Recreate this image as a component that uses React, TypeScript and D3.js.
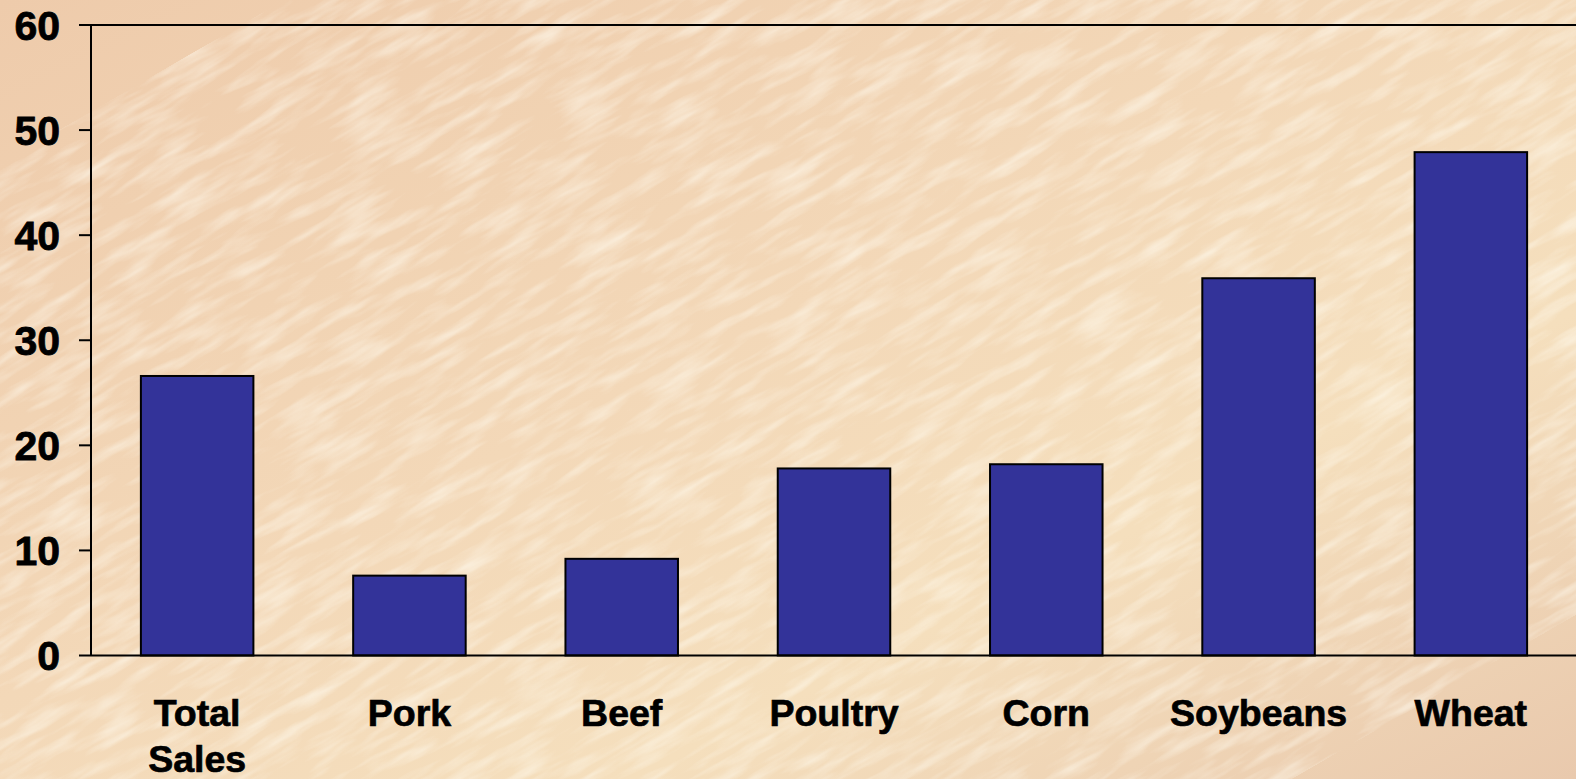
import React from "react";
import * as d3 from "d3";

const categories: string[][] = [["Total", "Sales"], ["Pork"], ["Beef"], ["Poultry"], ["Corn"], ["Soybeans"], ["Wheat"]];
const values: number[] = [26.6, 7.6, 9.2, 17.8, 18.2, 35.9, 47.9];
const yTicks: number[] = [0, 10, 20, 30, 40, 50, 60];

const W = 1576;
const H = 779;
const left = 91;
const right = 1577;
const top = 25;
const bottom = 655.5;

export default function App() {
  const keys = categories.map((c) => c.join(" "));
  const x = d3.scaleBand<string>().domain(keys).range([left, right]).paddingInner(0.47).paddingOuter(0.235);
  const y = d3.scaleLinear().domain([0, 60]).range([bottom, top]);
  const font = "'Liberation Sans', Arial, sans-serif";

  return (
    <svg width={W} height={H} style={{ position: "absolute", left: 0, top: 0 }} xmlns="http://www.w3.org/2000/svg">
      <defs>
        <linearGradient id="bg" x1="0" y1="0" x2="1" y2="1">
          <stop offset="0" stopColor="#eecbab" />
          <stop offset="0.45" stopColor="#f3d8b8" />
          <stop offset="0.7" stopColor="#f5dfbd" />
          <stop offset="1" stopColor="#e9c9ad" />
        </linearGradient>
        <filter id="grain" x="0" y="0" width="100%" height="100%">
          <feTurbulence type="fractalNoise" baseFrequency="0.015 0.09" numOctaves="3" seed="4" result="n" />
          <feColorMatrix in="n" type="matrix" values="0 0 0 0 1  0 0 0 0 0.97  0 0 0 0 0.88  0 0 0 2 -0.85" />
        </filter>
      </defs>
      <rect x={0} y={0} width={W} height={H} fill="url(#bg)" />
      <rect x={-200} y={-200} width={W + 400} height={H + 400} filter="url(#grain)" opacity={0.6} transform={`rotate(-30 ${W / 2} ${H / 2})`} />

      {values.map((v, i) => (
        <rect
          key={keys[i]}
          x={x(keys[i])}
          y={y(v)}
          width={x.bandwidth()}
          height={y(0) - y(v)}
          fill="#333399"
          stroke="#000"
          strokeWidth={2}
        />
      ))}

      <line x1={left} x2={W} y1={y(60)} y2={y(60)} stroke="#000" strokeWidth={2} />
      <line x1={left} x2={W} y1={y(0)} y2={y(0)} stroke="#000" strokeWidth={2} />
      <line x1={left} x2={left} y1={y(60)} y2={y(0)} stroke="#000" strokeWidth={2} />

      {yTicks.map((t) => (
        <g key={t}>
          <line x1={left - 12} x2={left} y1={y(t)} y2={y(t)} stroke="#000" strokeWidth={2} />
          <text x={60} y={y(t)} dy="0.36em" textAnchor="end" fontFamily={font} fontWeight="bold" fontSize={41} fill="#000" stroke="#000" strokeWidth={0.8}>
            {t}
          </text>
        </g>
      ))}

      {categories.map((lines, i) => (
        <text
          key={keys[i]}
          x={(x(keys[i]) as number) + x.bandwidth() / 2}
          y={726}
          textAnchor="middle"
          fontFamily={font}
          fontWeight="bold"
          fontSize={37.5}
          fill="#000"
          stroke="#000"
          strokeWidth={0.7}
        >
          {lines.map((l, j) => (
            <tspan key={l} x={(x(keys[i]) as number) + x.bandwidth() / 2} dy={j === 0 ? 0 : 46}>
              {l}
            </tspan>
          ))}
        </text>
      ))}
    </svg>
  );
}
